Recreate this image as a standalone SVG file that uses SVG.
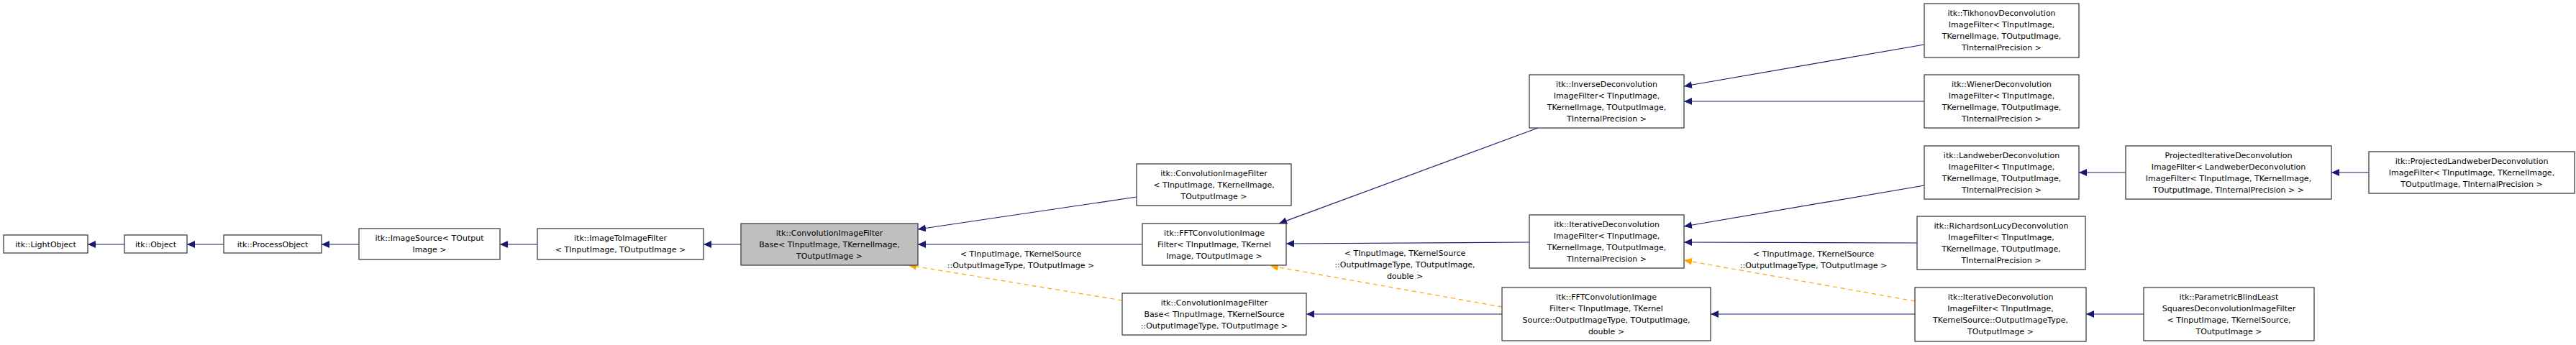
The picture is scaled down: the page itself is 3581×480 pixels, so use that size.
<svg xmlns="http://www.w3.org/2000/svg" width="3581" height="480" viewBox="0 0 3581 480">
<style>
.n rect{fill:#fff;stroke:#404040;stroke-width:1.3}
.n text{font-family:"DejaVu Sans",sans-serif;font-size:11px;text-anchor:middle;fill:#000}
.g rect{fill:#bfbfbf}
.e{fill:none;stroke:#191970;stroke-width:1.2;marker-end:url(#a)}
.d{fill:none;stroke:#ffa500;stroke-width:1.2;stroke-dasharray:6,5;marker-end:url(#o)}
.l{font-family:"DejaVu Sans",sans-serif;font-size:11px;text-anchor:middle;fill:#000}
</style>
<defs>
<marker id="a" markerWidth="12" markerHeight="10" refX="11" refY="5" orient="auto" markerUnits="userSpaceOnUse"><path d="M0,0 L11,5 L0,10 z" fill="#191970"/></marker>
<marker id="o" markerWidth="12" markerHeight="10" refX="11" refY="5" orient="auto" markerUnits="userSpaceOnUse"><path d="M0,0 L11,5 L0,10 z" fill="#ffa500"/></marker>
</defs>
<rect width="3581" height="480" fill="#fff"/>
<g id="edges">
<path class="e" d="M173,340 L122,340"/>
<path class="e" d="M311,340 L260,340"/>
<path class="e" d="M499,340 L447,340"/>
<path class="e" d="M747,340 L695,340"/>
<path class="e" d="M1030,340 L978,340"/>
<path class="e" d="M1580,274 L1276,319"/>
<path class="e" d="M1588,340 L1276,340"/>
<path class="d" d="M1560,418 L1263,369"/>
<path class="e" d="M2138,178 L1778,311"/>
<path class="e" d="M2126,337 L1788,339"/>
<path class="d" d="M2088,427 L1766,370"/>
<path class="e" d="M2088,437 L1816,437"/>
<path class="e" d="M2675,62 L2341,120"/>
<path class="e" d="M2675,141 L2341,141"/>
<path class="e" d="M2675,258 L2341,315"/>
<path class="e" d="M2665,338 L2341,337"/>
<path class="d" d="M2662,419 L2341,362"/>
<path class="e" d="M2662,437 L2378,437"/>
<path class="e" d="M2955,240 L2890,240"/>
<path class="e" d="M3293,240 L3241,240"/>
<path class="e" d="M2980,437 L2900,437"/>
<text class="l" x="1419" y="357">&lt; TInputImage, TKernelSource</text>
<text class="l" x="1419" y="373">::OutputImageType, TOutputImage &gt;</text>
<text class="l" x="1953" y="356">&lt; TInputImage, TKernelSource</text>
<text class="l" x="1953" y="372">::OutputImageType, TOutputImage,</text>
<text class="l" x="1953" y="388">double &gt;</text>
<text class="l" x="2521" y="357">&lt; TInputImage, TKernelSource</text>
<text class="l" x="2521" y="373">::OutputImageType, TOutputImage &gt;</text>
</g>
<g id="n1" class="n"><rect x="5" y="327" width="117" height="25"/><text x="63.5" y="344">itk::LightObject</text></g>
<g id="n2" class="n"><rect x="173" y="327" width="87" height="25"/><text x="216.5" y="344">itk::Object</text></g>
<g id="n3" class="n"><rect x="311" y="327" width="136" height="25"/><text x="379" y="344">itk::ProcessObject</text></g>
<g id="n4" class="n"><rect x="499" y="318" width="196" height="43"/><text x="597" y="335">itk::ImageSource&lt; TOutput</text><text x="597" y="351">Image &gt;</text></g>
<g id="n5" class="n"><rect x="747" y="318" width="231" height="43"/><text x="862.5" y="335">itk::ImageToImageFilter</text><text x="862.5" y="351">&lt; TInputImage, TOutputImage &gt;</text></g>
<g id="n6" class="n g"><rect x="1030" y="311" width="246" height="58"/><text x="1153" y="328">itk::ConvolutionImageFilter</text><text x="1153" y="344">Base&lt; TInputImage, TKernelImage,</text><text x="1153" y="360">TOutputImage &gt;</text></g>
<g id="n7" class="n"><rect x="1580" y="228" width="215" height="58"/><text x="1687.5" y="245">itk::ConvolutionImageFilter</text><text x="1687.5" y="261">&lt; TInputImage, TKernelImage,</text><text x="1687.5" y="277">TOutputImage &gt;</text></g>
<g id="n8" class="n"><rect x="1588" y="311" width="200" height="58"/><text x="1688" y="328">itk::FFTConvolutionImage</text><text x="1688" y="344">Filter&lt; TInputImage, TKernel</text><text x="1688" y="360">Image, TOutputImage &gt;</text></g>
<g id="n9" class="n"><rect x="1560" y="408" width="256" height="58"/><text x="1688" y="425">itk::ConvolutionImageFilter</text><text x="1688" y="441">Base&lt; TInputImage, TKernelSource</text><text x="1688" y="457">::OutputImageType, TOutputImage &gt;</text></g>
<g id="n10" class="n"><rect x="2126" y="104" width="215" height="74"/><text x="2233.5" y="121">itk::InverseDeconvolution</text><text x="2233.5" y="137">ImageFilter&lt; TInputImage,</text><text x="2233.5" y="153">TKernelImage, TOutputImage,</text><text x="2233.5" y="169">TInternalPrecision &gt;</text></g>
<g id="n11" class="n"><rect x="2126" y="299" width="215" height="74"/><text x="2233.5" y="316">itk::IterativeDeconvolution</text><text x="2233.5" y="332">ImageFilter&lt; TInputImage,</text><text x="2233.5" y="348">TKernelImage, TOutputImage,</text><text x="2233.5" y="364">TInternalPrecision &gt;</text></g>
<g id="n12" class="n"><rect x="2088" y="400" width="290" height="74"/><text x="2233" y="417">itk::FFTConvolutionImage</text><text x="2233" y="433">Filter&lt; TInputImage, TKernel</text><text x="2233" y="449">Source::OutputImageType, TOutputImage,</text><text x="2233" y="465">double &gt;</text></g>
<g id="n13" class="n"><rect x="2675" y="5" width="215" height="75"/><text x="2782.5" y="22">itk::TikhonovDeconvolution</text><text x="2782.5" y="38">ImageFilter&lt; TInputImage,</text><text x="2782.5" y="54">TKernelImage, TOutputImage,</text><text x="2782.5" y="70">TInternalPrecision &gt;</text></g>
<g id="n14" class="n"><rect x="2675" y="104" width="215" height="74"/><text x="2782.5" y="121">itk::WienerDeconvolution</text><text x="2782.5" y="137">ImageFilter&lt; TInputImage,</text><text x="2782.5" y="153">TKernelImage, TOutputImage,</text><text x="2782.5" y="169">TInternalPrecision &gt;</text></g>
<g id="n15" class="n"><rect x="2675" y="203" width="215" height="74"/><text x="2782.5" y="220">itk::LandweberDeconvolution</text><text x="2782.5" y="236">ImageFilter&lt; TInputImage,</text><text x="2782.5" y="252">TKernelImage, TOutputImage,</text><text x="2782.5" y="268">TInternalPrecision &gt;</text></g>
<g id="n16" class="n"><rect x="2665" y="301" width="234" height="74"/><text x="2782" y="318">itk::RichardsonLucyDeconvolution</text><text x="2782" y="334">ImageFilter&lt; TInputImage,</text><text x="2782" y="350">TKernelImage, TOutputImage,</text><text x="2782" y="366">TInternalPrecision &gt;</text></g>
<g id="n17" class="n"><rect x="2662" y="400" width="238" height="75"/><text x="2781" y="417">itk::IterativeDeconvolution</text><text x="2781" y="433">ImageFilter&lt; TInputImage,</text><text x="2781" y="449">TKernelSource::OutputImageType,</text><text x="2781" y="465">TOutputImage &gt;</text></g>
<g id="n18" class="n"><rect x="2955" y="203" width="286" height="74"/><text x="3098" y="220">ProjectedIterativeDeconvolution</text><text x="3098" y="236">ImageFilter&lt; LandweberDeconvolution</text><text x="3098" y="252">ImageFilter&lt; TInputImage, TKernelImage,</text><text x="3098" y="268">TOutputImage, TInternalPrecision &gt; &gt;</text></g>
<g id="n19" class="n"><rect x="3293" y="211" width="286" height="58"/><text x="3436" y="228">itk::ProjectedLandweberDeconvolution</text><text x="3436" y="244">ImageFilter&lt; TInputImage, TKernelImage,</text><text x="3436" y="260">TOutputImage, TInternalPrecision &gt;</text></g>
<g id="n20" class="n"><rect x="2980" y="400" width="237" height="74"/><text x="3098.5" y="417">itk::ParametricBlindLeast</text><text x="3098.5" y="433">SquaresDeconvolutionImageFilter</text><text x="3098.5" y="449">&lt; TInputImage, TKernelSource,</text><text x="3098.5" y="465">TOutputImage &gt;</text></g>
</svg>
